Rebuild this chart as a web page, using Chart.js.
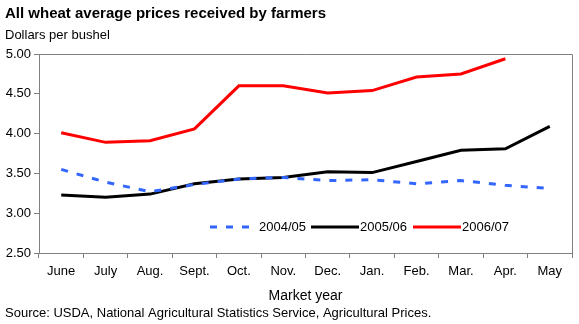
<!DOCTYPE html>
<html>
<head>
<meta charset="utf-8">
<script src="https://cdn.jsdelivr.net/npm/chart.js@4.4.1/dist/chart.umd.min.js"></script>
<style>
  html, body { margin: 0; padding: 0; background: #fff; }
  #wrap { width: 579px; height: 324px; position: relative; }
</style>
</head>
<body>
<div id="wrap"><canvas id="chart-wheat"></canvas></div>
<script>
// Market year months and prices ($/bu)
const months = ['June', 'July', 'Aug.', 'Sept.', 'Oct.', 'Nov.', 'Dec.', 'Jan.', 'Feb.', 'Mar.', 'Apr.', 'May'];
const prices0405 = [3.55, 3.39, 3.27, 3.36, 3.43, 3.45, 3.41, 3.42, 3.37, 3.41, 3.35, 3.31];
const prices0506 = [3.23, 3.20, 3.24, 3.37, 3.43, 3.45, 3.52, 3.51, 3.65, 3.79, 3.81, 4.09];
const prices0607 = [4.01, 3.89, 3.91, 4.06, 4.60, 4.60, 4.51, 4.54, 4.71, 4.75, 4.94, null];
const seriesNames = ['2004/05', '2005/06', '2006/07'];

const FONT = 'Arial, "Liberation Sans", Helvetica, sans-serif';
const GREY = '#808080';

// texts around the plot + in-plot legend
const decorations = {
  id: 'decorations',
  afterDraw(chart) {
    const c = chart.ctx;
    const area = chart.chartArea;
    c.save();
    // frame top/right
    c.strokeStyle = GREY;
    c.lineWidth = 1;
    c.beginPath();
    c.moveTo(area.left, area.top + 0.5);
    c.lineTo(area.right + 0.5, area.top + 0.5);
    c.lineTo(area.right + 0.5, area.bottom);
    c.stroke();

    c.fillStyle = '#000';
    c.textBaseline = 'middle';
    c.textAlign = 'left';
    c.font = 'bold 15px ' + FONT;
    c.fillText('All wheat average prices received by farmers', 5, 14);
    c.font = '13px ' + FONT;
    c.fillText('Dollars per bushel', 5, 35);
    c.fillText('Source: USDA, National Agricultural Statistics Service, Agricultural Prices.', 5, 313);
    c.font = '14px ' + FONT;
    c.textAlign = 'center';
    c.fillText('Market year', (area.left + area.right) / 2, 296);

    // legend
    const ly = 227;
    const items = [
      { x: 210, color: '#3366ff', dash: [7, 9] },
      { x: 311, color: '#000000', dash: [] },
      { x: 413, color: '#ff0000', dash: [] }
    ];
    c.textAlign = 'left';
    c.font = '13px ' + FONT;
    items.forEach((it, i) => {
      c.strokeStyle = it.color;
      c.lineWidth = 3;
      c.setLineDash(it.dash);
      c.beginPath();
      c.moveTo(it.x, ly);
      c.lineTo(it.x + 48, ly);
      c.stroke();
      c.setLineDash([]);
      c.fillStyle = '#000';
      c.fillText(seriesNames[i], it.x + 49, ly);
    });
    c.restore();
  }
};

new Chart(document.getElementById('chart-wheat'), {
  type: 'line',
  data: {
    labels: months,
    datasets: [
      {
        label: seriesNames[0],
        data: prices0405,
        borderColor: '#3366ff',
        borderWidth: 3,
        borderDash: [7, 9],
        pointRadius: 0,
        tension: 0
      },
      {
        label: seriesNames[1],
        data: prices0506,
        borderColor: '#000000',
        borderWidth: 3,
        pointRadius: 0,
        tension: 0
      },
      {
        label: seriesNames[2],
        data: prices0607,
        borderColor: '#ff0000',
        borderWidth: 3,
        pointRadius: 0,
        tension: 0
      }
    ]
  },
  options: {
    responsive: true,
    maintainAspectRatio: false,
    animation: false,
    layout: { padding: { top: 54, right: 7, bottom: 41, left: 0 } },
    plugins: {
      legend: { display: false },
      tooltip: { enabled: false }
    },
    scales: {
      x: {
        offset: true,
        afterFit: s => { s.height = 30; },
        grid: { offset: true, drawOnChartArea: false, tickLength: 5, color: GREY },
        border: { color: GREY },
        ticks: { color: '#000', font: { family: FONT, size: 13 }, padding: 6, maxRotation: 0, autoSkip: false }
      },
      y: {
        min: 2.5,
        max: 5.0,
        afterFit: s => { s.width = 39; },
        afterBuildTicks: s => {
          s.ticks = [2.5, 3.0, 3.5, 4.0, 4.5, 5.0].map(v => ({ value: v }));
        },
        grid: { drawOnChartArea: false, tickLength: 5, color: GREY },
        border: { color: GREY },
        ticks: {
          color: '#000',
          font: { family: FONT, size: 13 },
          padding: 3,
          callback: v => Number(v).toFixed(2)
        }
      }
    }
  },
  plugins: [decorations]
});
</script>
</body>
</html>
